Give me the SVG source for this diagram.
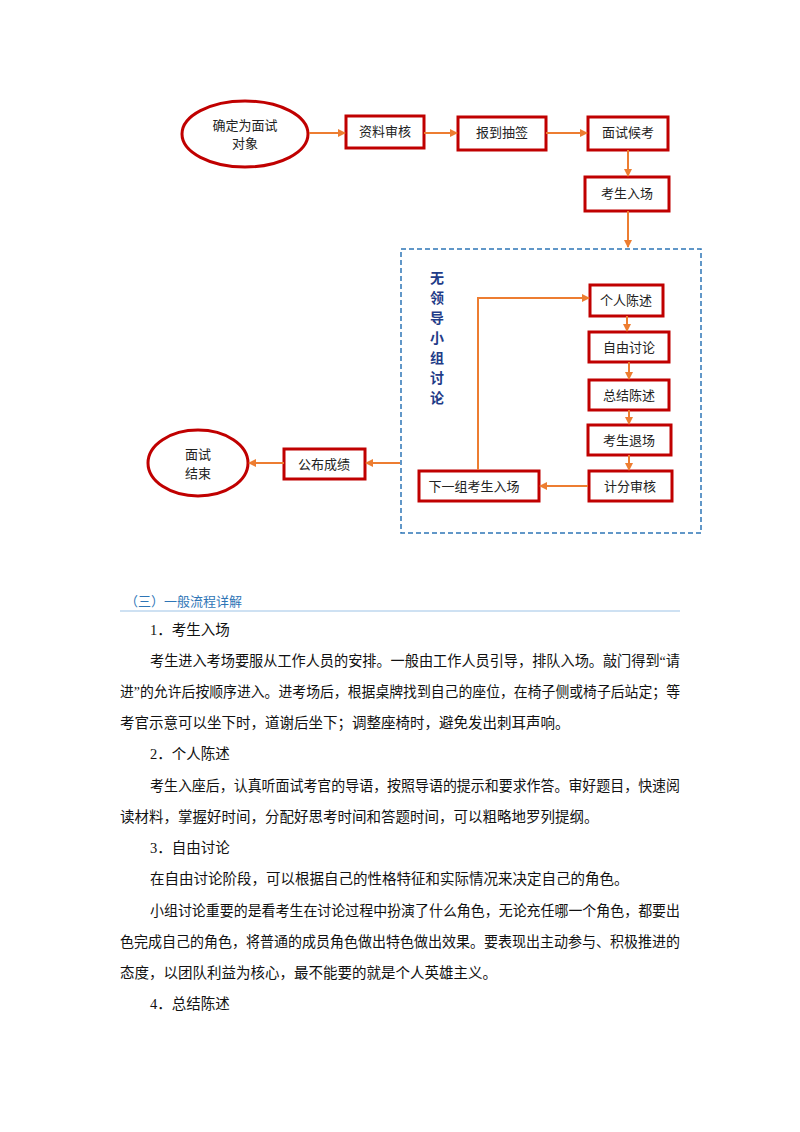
<svg xmlns="http://www.w3.org/2000/svg" width="800" height="1132" viewBox="0 0 800 1132">
<style>
.b{fill:#fff;stroke:#c00000;stroke-width:3}
.t{font-family:"Liberation Sans","Noto Sans CJK SC",sans-serif;font-size:13px;fill:#222;text-anchor:middle}
.c{stroke:#ed7d31;stroke-width:2;fill:none}
.p{font-family:"Liberation Serif","Noto Sans CJK SC",serif;font-size:14.5px;fill:#111}
.v{font-family:"Noto Sans CJK SC",sans-serif;font-size:14px;font-weight:bold;fill:#1f3c88;text-anchor:middle}
</style>
<defs><marker id="a" markerWidth="8" markerHeight="8" refX="7" refY="4" orient="auto" markerUnits="userSpaceOnUse"><path d="M0,0L8,4L0,8z" fill="#ed7d31"/></marker></defs>
<rect width="800" height="1132" fill="#fff"/>
<rect x="401" y="249" width="300" height="284" fill="none" stroke="#2e75b6" stroke-width="1.5" stroke-dasharray="5,3"/>
<g id="n1"><ellipse class="b" cx="245" cy="134" rx="63" ry="33"/><text class="t" x="245" y="130">确定为面试</text><text class="t" x="245" y="148">对象</text></g>
<g id="n2"><rect class="b" x="346" y="116" width="78" height="32"/><text class="t" x="385" y="136">资料审核</text></g>
<g id="n3"><rect class="b" x="458" y="117" width="88" height="33"/><text class="t" x="502" y="137">报到抽签</text></g>
<g id="n4"><rect class="b" x="588" y="117" width="80" height="33"/><text class="t" x="628" y="137">面试候考</text></g>
<g id="n5"><rect class="b" x="585" y="177" width="84" height="34"/><text class="t" x="627" y="198">考生入场</text></g>
<g id="n6"><rect class="b" x="590" y="285" width="73" height="31"/><text class="t" x="626" y="305">个人陈述</text></g>
<g id="n7"><rect class="b" x="589" y="332" width="80" height="30"/><text class="t" x="629" y="352">自由讨论</text></g>
<g id="n8"><rect class="b" x="589" y="380" width="80" height="30"/><text class="t" x="629" y="400">总结陈述</text></g>
<g id="n9"><rect class="b" x="588" y="425" width="83" height="30"/><text class="t" x="629" y="445">考生退场</text></g>
<g id="n10"><rect class="b" x="589" y="471" width="83" height="30"/><text class="t" x="630" y="491">计分审核</text></g>
<g id="n11"><rect class="b" x="419" y="471" width="120" height="30"/><text class="t" x="474" y="491">下一组考生入场</text></g>
<g id="n12"><rect class="b" x="284" y="449" width="81" height="30"/><text class="t" x="324" y="469">公布成绩</text></g>
<g id="n13"><ellipse class="b" cx="198" cy="463" rx="50" ry="33"/><text class="t" x="198" y="459">面试</text><text class="t" x="198" y="478">结束</text></g>
<g id="label"><text class="v" x="437" y="283">无</text><text class="v" x="437" y="303">领</text><text class="v" x="437" y="323">导</text><text class="v" x="437" y="343">小</text><text class="v" x="437" y="363">组</text><text class="v" x="437" y="383">讨</text><text class="v" x="437" y="403">论</text></g>
<g id="connectors">
<line class="c" x1="309" y1="133" x2="345" y2="133" marker-end="url(#a)"/>
<line class="c" x1="424" y1="133" x2="457" y2="133" marker-end="url(#a)"/>
<line class="c" x1="546" y1="133" x2="587" y2="133" marker-end="url(#a)"/>
<line class="c" x1="628" y1="150" x2="628" y2="176" marker-end="url(#a)"/>
<line class="c" x1="628" y1="211" x2="628" y2="247" marker-end="url(#a)"/>
<line class="c" x1="627" y1="316" x2="627" y2="331" marker-end="url(#a)"/>
<line class="c" x1="629" y1="362" x2="629" y2="379" marker-end="url(#a)"/>
<line class="c" x1="629" y1="410" x2="629" y2="424" marker-end="url(#a)"/>
<line class="c" x1="629" y1="455" x2="629" y2="470" marker-end="url(#a)"/>
<line class="c" x1="588" y1="486" x2="540" y2="486" marker-end="url(#a)"/>
<polyline class="c" points="478,470 478,298 589,298" marker-end="url(#a)"/>
<line class="c" x1="400" y1="463" x2="366" y2="463" marker-end="url(#a)"/>
<line class="c" x1="284" y1="463" x2="249" y2="463" marker-end="url(#a)"/>
</g>
<text x="125" y="606" font-family="Noto Sans CJK SC,sans-serif" font-size="13" fill="#2e75b6">（三）一般流程详解</text>
<line x1="120" y1="611" x2="680" y2="611" stroke="#9dc3e6" stroke-width="1"/>
<text class="p" x="150" y="635">1．考生入场</text>
<text class="p" x="150" y="666" textLength="530" lengthAdjust="spacingAndGlyphs">考生进入考场要服从工作人员的安排。一般由工作人员引导，排队入场。敲门得到“请</text>
<text class="p" x="120" y="697" textLength="560" lengthAdjust="spacingAndGlyphs">进”的允许后按顺序进入。进考场后，根据桌牌找到自己的座位，在椅子侧或椅子后站定；等</text>
<text class="p" x="120" y="728">考官示意可以坐下时，道谢后坐下；调整座椅时，避免发出刺耳声响。</text>
<text class="p" x="150" y="759">2．个人陈述</text>
<text class="p" x="150" y="791" textLength="530" lengthAdjust="spacingAndGlyphs">考生入座后，认真听面试考官的导语，按照导语的提示和要求作答。审好题目，快速阅</text>
<text class="p" x="120" y="822">读材料，掌握好时间，分配好思考时间和答题时间，可以粗略地罗列提纲。</text>
<text class="p" x="150" y="853">3．自由讨论</text>
<text class="p" x="150" y="884">在自由讨论阶段，可以根据自己的性格特征和实际情况来决定自己的角色。</text>
<text class="p" x="150" y="916" textLength="530" lengthAdjust="spacingAndGlyphs">小组讨论重要的是看考生在讨论过程中扮演了什么角色，无论充任哪一个角色，都要出</text>
<text class="p" x="120" y="947" textLength="560" lengthAdjust="spacingAndGlyphs">色完成自己的角色，将普通的成员角色做出特色做出效果。要表现出主动参与、积极推进的</text>
<text class="p" x="120" y="978">态度，以团队利益为核心，最不能要的就是个人英雄主义。</text>
<text class="p" x="150" y="1009">4．总结陈述</text>
</svg>
